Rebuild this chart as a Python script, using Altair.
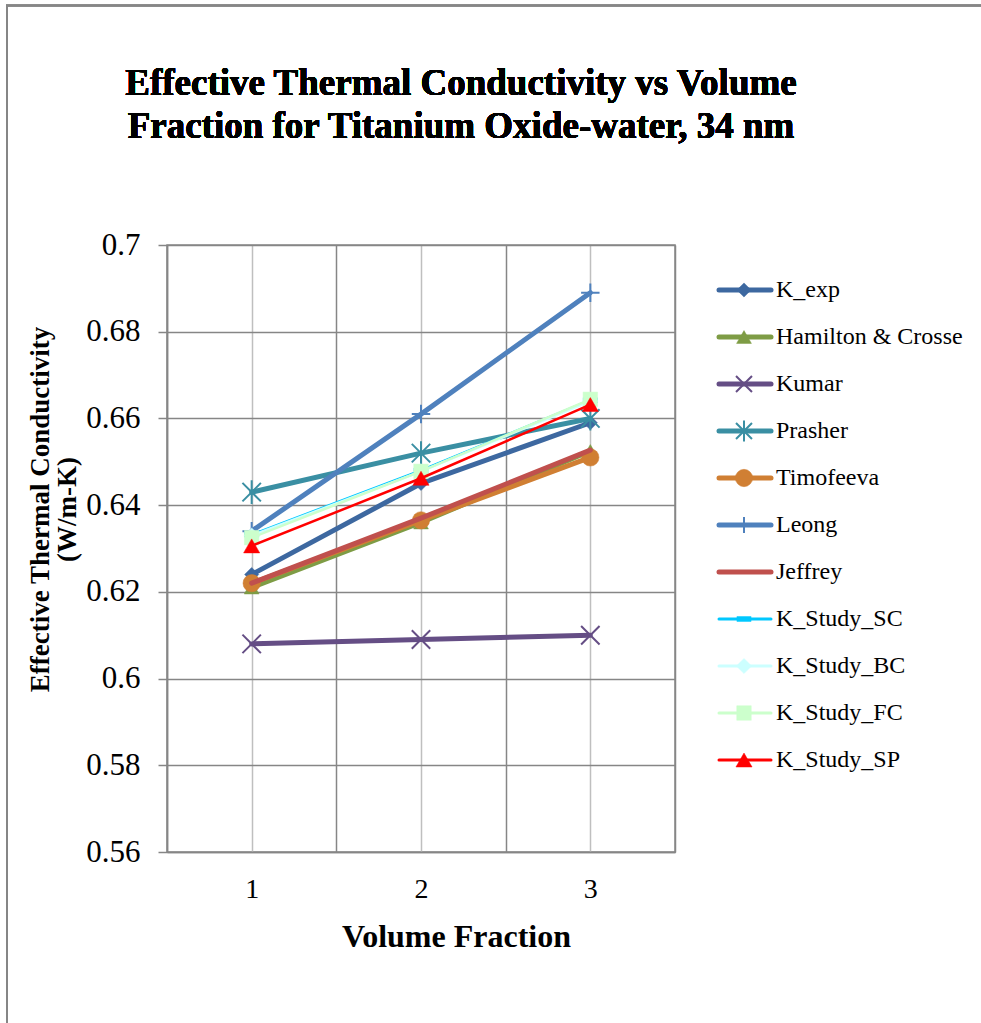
import altair as alt
import pandas as pd

# ---------------- data ----------------
chart_title = ["Effective Thermal Conductivity vs Volume", "Fraction for Titanium Oxide-water, 34 nm"]
volume_fraction = [1, 2, 3]
series_names = ["K_exp", "Hamilton & Crosse", "Kumar", "Prasher", "Timofeeva",
                "Leong", "Jeffrey", "K_Study_SC", "K_Study_BC", "K_Study_FC", "K_Study_SP"]
k_exp = [0.624, 0.645, 0.659]
hamilton_crosse = [0.621, 0.636, 0.6525]
kumar = [0.608, 0.609, 0.610]
prasher = [0.643, 0.652, 0.660]
timofeeva = [0.622, 0.6365, 0.651]
leong = [0.634, 0.661, 0.689]
jeffrey = [0.622, 0.637, 0.6527]
k_study_sc = [0.6332, 0.6480, 0.6642]
k_study_bc = [0.6330, 0.6478, 0.6640]
k_study_fc = [0.6325, 0.6478, 0.6644]
k_study_sp = [0.6306, 0.6462, 0.6632]
all_values = [k_exp, hamilton_crosse, kumar, prasher, timofeeva, leong, jeffrey,
              k_study_sc, k_study_bc, k_study_fc, k_study_sp]
y_ticks = [0.56, 0.58, 0.60, 0.62, 0.64, 0.66, 0.68, 0.70]
x_ticks = [0.5, 1, 1.5, 2, 2.5, 3, 3.5]

# ---------------- styles ----------------
X_PATH = "M-1,-1L1,1M-1,1L1,-1"
AST_PATH = "M-1,-1L1,1M-1,1L1,-1M0,-1.3L0,1.3"
PLUS_PATH = "M-1,0L1,0M0,-1L0,1"
BAR_PATH = "M-1,-0.35L1,-0.35L1,0.35L-1,0.35Z"
styles = {
    "K_exp":             dict(color="#3D68A0", width=5,   shape="diamond",       size=200, filled=True),
    "Hamilton & Crosse": dict(color="#7E9C45", width=5,   shape="triangle-up",   size=220, filled=True),
    "Kumar":             dict(color="#654E85", width=5,   shape=X_PATH,          size=340, filled=False),
    "Prasher":           dict(color="#3A8FA3", width=5,   shape=AST_PATH,        size=340, filled=False),
    "Timofeeva":         dict(color="#D07F33", width=5,   shape="circle",        size=300, filled=True),
    "Leong":             dict(color="#4F81BD", width=5,   shape=PLUS_PATH,       size=340, filled=False),
    "Jeffrey":           dict(color="#C0504D", width=5,   shape=None,            size=0,   filled=True),
    "K_Study_SC":        dict(color="#00C8FF", width=2.5, shape=BAR_PATH,        size=200, filled=True),
    "K_Study_BC":        dict(color="#CCFFFF", width=2.5, shape="diamond",       size=230, filled=True),
    "K_Study_FC":        dict(color="#CCFFCC", width=2.5, shape="square",        size=210, filled=True),
    "K_Study_SP":        dict(color="#FF0000", width=2.5, shape="triangle-up",   size=260, filled=True),
}

rows = []
for name, vals in zip(series_names, all_values):
    for xv, yv in zip(volume_fraction, vals):
        rows.append({"series": name, "vf": xv, "k": yv})
df = pd.DataFrame(rows)
legend_df = pd.DataFrame({"series": series_names})

FONT = "Liberation Serif"
DARK = "#868686"
LIGHT = "#BFBFBF"

X_ENC = alt.X(
    "vf:Q",
    scale=alt.Scale(domain=[0.5, 3.5], nice=False, zero=False),
    axis=alt.Axis(
        values=x_ticks,
        labelExpr="datum.value % 1 === 0 ? '' + datum.value : ''",
        ticks=False,
        domainColor=DARK, domainWidth=1.5,
        grid=True,
        gridColor={"condition": {"test": "datum.value % 1 === 0", "value": LIGHT}, "value": DARK},
        gridWidth=1.5,
        labelFont=FONT, labelFontSize=28, labelColor="black", labelPadding=23,
        title="Volume Fraction", titleFont=FONT, titleFontSize=32, titleFontWeight="bold",
        titleColor="black", titlePadding=18, titleX=289,
    ),
)
Y_ENC = alt.Y(
    "k:Q",
    scale=alt.Scale(domain=[0.56, 0.70], nice=False, zero=False),
    axis=alt.Axis(
        values=y_ticks, format=".2~f",
        domainColor=DARK, domainWidth=1.5, tickColor=DARK, tickSize=9, tickWidth=1.5,
        grid=True, gridColor=DARK, gridWidth=1.5,
        labelFont=FONT, labelFontSize=31, labelColor="black", labelPadding=18,
        title=["Effective Thermal Conductivity", "(W/m-K)"],
        titleFont=FONT, titleFontSize=27, titleFontWeight="bold", titleColor="black",
        titleLineHeight=27, titleX=-113, titleY=264,
    ),
)

main_layers = []
for name in series_names:
    st = styles[name]
    base = alt.Chart(df).transform_filter(alt.datum.series == name)
    main_layers.append(
        base.mark_line(color=st["color"], strokeWidth=st["width"], strokeCap="round",
                       strokeJoin="round").encode(x=X_ENC, y=Y_ENC)
    )
    if st["shape"]:
        if st["filled"]:
            pm = base.mark_point(shape=st["shape"], size=st["size"], filled=True,
                                 fill=st["color"], stroke=st["color"], strokeWidth=0.5, opacity=1)
        else:
            pm = base.mark_point(shape=st["shape"], size=st["size"], filled=False,
                                 stroke=st["color"], strokeWidth=2, opacity=1)
        main_layers.append(pm.encode(x=X_ENC, y=Y_ENC))

main = alt.layer(*main_layers)

LY = alt.Y("series:N", scale=alt.Scale(type="point", domain=series_names, range=[45, 515], padding=0),
           axis=None)
legend_layers = []
for name in series_names:
    st = styles[name]
    lb = alt.Chart(legend_df).transform_filter(alt.datum.series == name)
    lw = 5 if st["width"] > 3 else 3
    legend_layers.append(
        lb.mark_rule(color=st["color"], strokeWidth=lw, strokeCap="round").encode(
            x=alt.value(552), x2=alt.value(604), y=LY)
    )
    if st["shape"]:
        if st["filled"]:
            pm = lb.mark_point(shape=st["shape"], size=st["size"], filled=True,
                               fill=st["color"], stroke=st["color"], strokeWidth=0.5, opacity=1)
        else:
            pm = lb.mark_point(shape=st["shape"], size=st["size"] * 0.75, filled=False,
                               stroke=st["color"], strokeWidth=2, opacity=1)
        legend_layers.append(pm.encode(x=alt.value(577), y=LY))
legend_layers.append(
    alt.Chart(legend_df).mark_text(align="left", baseline="middle", font=FONT, fontSize=24,
                                   color="black").encode(x=alt.value(609), y=LY, text="series:N")
)
legend = alt.layer(*legend_layers)

decor = alt.layer(
    alt.Chart(legend_df).mark_rule(color=DARK, strokeWidth=2).encode(
        x=alt.value(-160), x2=alt.value(-160), y=alt.value(-240), y2=alt.value(790)),
    alt.Chart(legend_df).mark_rule(color=DARK, strokeWidth=1.5).encode(
        x=alt.value(-161), x2=alt.value(820), y=alt.value(-239.5), y2=alt.value(-239.5)),
    alt.Chart(legend_df).mark_text(
        text=chart_title, align="center", baseline="alphabetic", font=FONT, fontSize=37,
        fontWeight="bold", color="black", lineHeight=43,
    ).encode(x=alt.value(294), y=alt.value(-150)),
)

chart = alt.layer(decor, main, legend).resolve_scale(y="independent").properties(
    width=508,
    height=607,
    autosize=alt.AutoSizeParams(type="none"),
    padding={"left": 167, "top": 245, "right": 306, "bottom": 171},
    background="white",
).configure_view(stroke=DARK, strokeWidth=1.5)

chart.save("out.html", embed_options={"renderer": "svg", "actions": False})
